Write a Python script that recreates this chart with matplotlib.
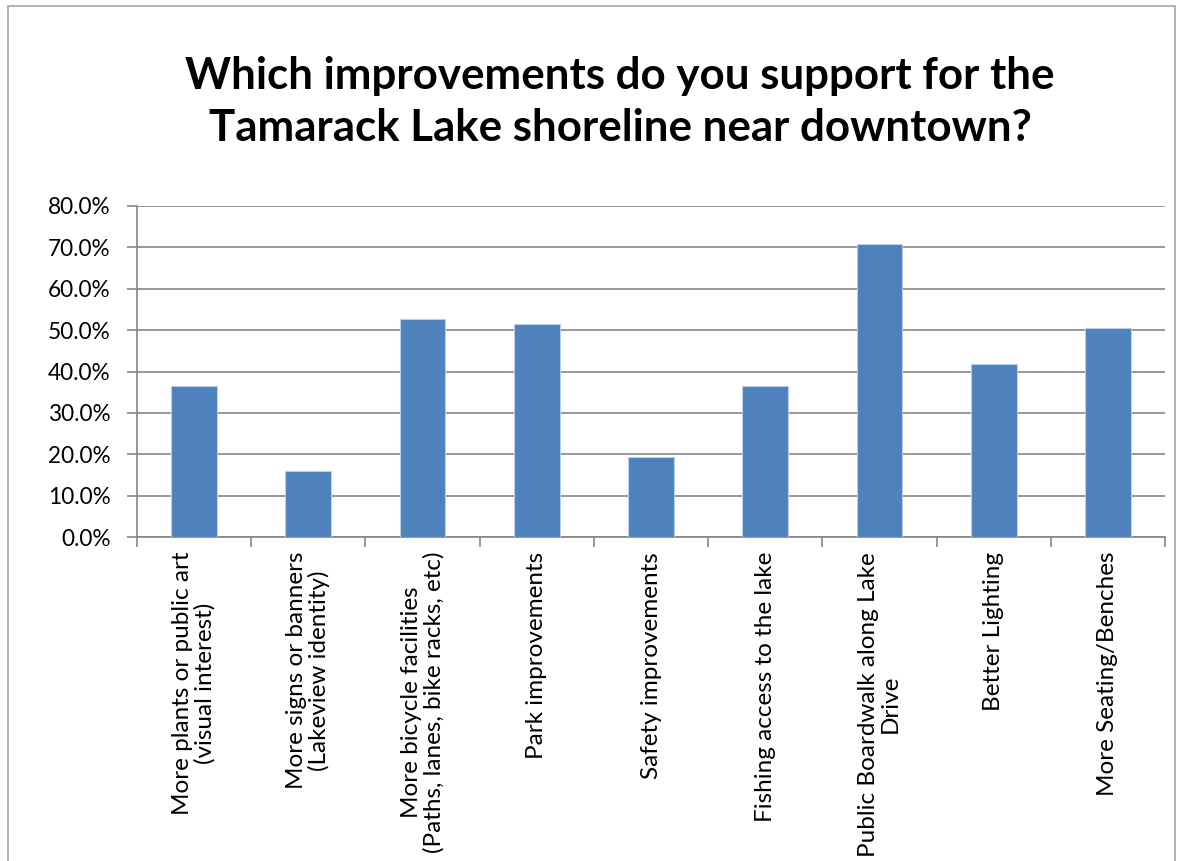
import matplotlib
matplotlib.use("Agg")
import matplotlib.pyplot as plt
from matplotlib.ticker import FuncFormatter, MultipleLocator
from matplotlib.patches import Rectangle

categories = [
    "More plants or public art\n(visual interest)",
    "More signs or banners\n(Lakeview identity)",
    "More bicycle facilities\n(Paths, lanes, bike racks, etc)",
    "Park improvements",
    "Safety improvements",
    "Fishing access to the lake",
    "Public Boardwalk along Lake\nDrive",
    "Better Lighting",
    "More Seating/Benches",
]
values = [36.5, 16.0, 52.7, 51.4, 19.4, 36.5, 70.8, 41.8, 50.5]
title = "Which improvements do you support for the\nTamarack Lake shoreline near downtown?"

FONT = "Lato"
plt.rcParams["font.family"] = [FONT, "DejaVu Sans"]

fig = plt.figure(figsize=(11.79, 8.61), dpi=100)
fig.patches.append(Rectangle((8 / 1179, -0.01), (1175 - 8) / 1179, 1 - 6 / 861 + 0.01,
                             transform=fig.transFigure, fill=False,
                             edgecolor="#A6A6A6", linewidth=1.2))

ax = fig.add_axes([137 / 1179, 1 - 537 / 861, (1165 - 137) / 1179, (537 - 206) / 861])

x = list(range(len(categories)))
ax.bar(x, values, width=0.4, color="#4F81BD", edgecolor="#B9CDE5", linewidth=0.8, zorder=3)

ax.set_xlim(-0.5, len(categories) - 0.5)
ax.set_ylim(0, 80)
ax.yaxis.set_major_locator(MultipleLocator(10))
ax.yaxis.set_major_formatter(FuncFormatter(lambda v, p: f"{v:.1f}%"))
ax.grid(axis="y", color="#868686", linewidth=1.2, zorder=0)
ax.set_axisbelow(True)

for s in ["top", "right"]:
    ax.spines[s].set_visible(False)
for s in ["left", "bottom"]:
    ax.spines[s].set_color("#868686")
    ax.spines[s].set_linewidth(1.2)

# tick marks between categories on x
ax.set_xticks([i - 0.5 for i in range(len(categories) + 1)])
ax.set_xticklabels([])
ax.tick_params(axis="x", length=7, color="#868686", width=1.2)
ax.tick_params(axis="y", length=7, color="#868686", width=1.2, labelsize=16.3, pad=12)

for i, lab in enumerate(categories):
    ax.text(i, -3.6, lab, rotation=90, ha="center", va="top", multialignment="center",
            fontsize=17.5, linespacing=1.05, transform=ax.transData)

fig.text(0.526, 1 - 102 / 861, title, ha="center", va="center", fontsize=31.6,
         fontweight="bold", linespacing=1.38)

fig.savefig("out.png", dpi=100)
